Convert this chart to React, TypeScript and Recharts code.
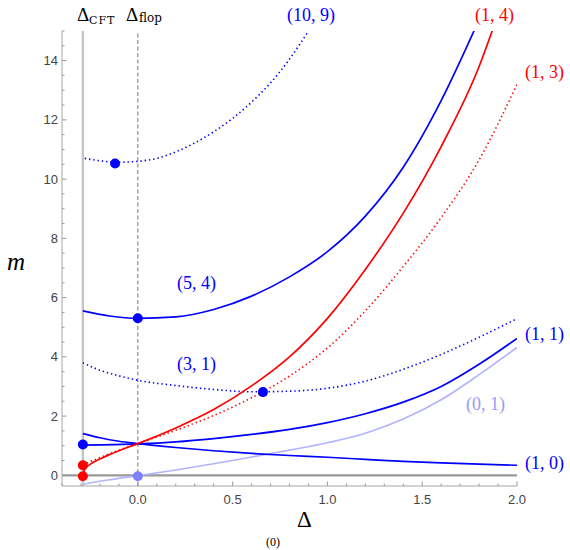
import { ComposedChart, Line, Scatter, XAxis, YAxis, ReferenceLine } from "recharts";

// curves, [Δ, m]
const curve10_9: [number, number][] = [
  [-0.28, 10.7], [-0.2, 10.62], [-0.1, 10.57], [0, 10.6], [0.1, 10.7], [0.2, 10.92],
  [0.3, 11.22], [0.4, 11.6], [0.5, 12.05], [0.6, 12.6], [0.7, 13.25], [0.8, 14.05],
  [0.9, 15.0], [0.95, 15.5],
];
const curve5_4: [number, number][] = [
  [-0.29, 5.55], [-0.15, 5.38], [0, 5.3], [0.2, 5.35], [0.4, 5.6], [0.6, 6.05],
  [0.8, 6.7], [1.0, 7.55], [1.2, 8.75], [1.4, 10.4], [1.6, 12.65], [1.78, 15.1],
];
const curve1_4: [number, number][] = [
  [-0.29, -0.03], [-0.28, 0.2], [-0.25, 0.38], [-0.2, 0.55], [-0.15, 0.7], [-0.08, 0.88],
  [0, 1.07], [0.2, 1.6], [0.4, 2.22], [0.6, 3.02], [0.8, 4.0], [1.0, 5.3], [1.2, 6.95],
  [1.4, 8.85], [1.6, 11.1], [1.8, 13.8], [1.88, 15.2],
];
const curve1_3: [number, number][] = [
  [-0.29, 0.36], [-0.2, 0.6], [-0.1, 0.85], [0, 1.07], [0.2, 1.52], [0.4, 2.02],
  [0.6, 2.62], [0.8, 3.35], [1.0, 4.3], [1.2, 5.55], [1.4, 7.05], [1.6, 8.7],
  [1.8, 10.65], [2.0, 13.2],
];
const curve3_1: [number, number][] = [
  [-0.29, 3.8], [-0.2, 3.55], [-0.1, 3.36], [0, 3.21], [0.2, 3.03], [0.4, 2.9],
  [0.6, 2.82], [0.8, 2.84], [1.0, 2.94], [1.2, 3.18], [1.4, 3.58], [1.6, 4.08],
  [1.8, 4.66], [2.0, 5.29],
];
const curve1_1: [number, number][] = [
  [-0.29, 1.02], [0, 1.06], [0.2, 1.13], [0.4, 1.24], [0.6, 1.38], [0.8, 1.55],
  [1.0, 1.78], [1.2, 2.08], [1.4, 2.47], [1.6, 3.0], [1.8, 3.75], [2.0, 4.62],
];
const curve1_0: [number, number][] = [
  [-0.29, 1.41], [-0.2, 1.27], [-0.1, 1.15], [0, 1.07], [0.2, 0.94], [0.4, 0.83],
  [0.6, 0.74], [0.8, 0.67], [1.0, 0.61], [1.2, 0.54], [1.4, 0.47], [1.6, 0.42],
  [1.8, 0.38], [2.0, 0.34],
];
const curve0_1: [number, number][] = [
  [-0.29, -0.3], [-0.15, -0.15], [0, -0.01], [0.2, 0.18], [0.4, 0.39], [0.6, 0.62],
  [0.8, 0.85], [1.0, 1.1], [1.2, 1.42], [1.4, 1.9], [1.6, 2.55], [1.8, 3.4], [2.0, 4.32],
];

const blueDots: [number, number][] = [[-0.12, 10.53], [0, 5.3], [0.66, 2.81], [-0.29, 1.04]];
const redDots: [number, number][] = [[-0.29, 0.34], [-0.29, -0.03]];
const fadedDots: [number, number][] = [[0, -0.03]];

const xTicks = [-0.4, -0.3, -0.2, -0.1, 0, 0.1, 0.2, 0.3, 0.4, 0.5, 0.6, 0.7, 0.8, 0.9, 1.0,
  1.1, 1.2, 1.3, 1.4, 1.5, 1.6, 1.7, 1.8, 1.9, 2.0];
const yTicks = [0, 0.5, 1, 1.5, 2, 2.5, 3, 3.5, 4, 4.5, 5, 5.5, 6, 6.5, 7, 7.5, 8, 8.5, 9, 9.5,
  10, 10.5, 11, 11.5, 12, 12.5, 13, 13.5, 14, 14.5, 15];

const deltaCFT = -0.29;

const BLUE = "#0000ff";
const RED = "#ff0000";
const LIGHT = "#b3b3ff";
const FRAME = "#a6a6a6";
const TICK = "#9a9a9a";
const SERIF = "'Liberation Serif', serif";
const SANS = "'Liberation Sans', sans-serif";

const pts = (arr: [number, number][]) => arr.map(([x, y]) => ({ x, y }));

const isMajorX = (v: number) => Math.abs(v * 2 - Math.round(v * 2)) < 1e-6;
const isMajorY = (v: number) => Math.abs(v / 2 - Math.round(v / 2)) < 1e-6;

const BottomTick = (p: any) => {
  const v = p.payload.value;
  const major = isMajorX(v);
  return (
    <g>
      <line x1={p.x} x2={p.x} y1={p.y} y2={p.y - (major ? 4.5 : 2.5)} stroke={TICK} />
      {major && (
        <text x={p.x} y={p.y + 18} textAnchor="middle" fontSize={13} fontFamily={SANS} fill="#444">
          {v.toFixed(1)}
        </text>
      )}
    </g>
  );
};

const TopTick = (p: any) => {
  const major = isMajorX(p.payload.value);
  return <line x1={p.x} x2={p.x} y1={p.y} y2={p.y + (major ? 4.5 : 2.5)} stroke={TICK} />;
};

const LeftTick = (p: any) => {
  const v = p.payload.value;
  const major = isMajorY(v);
  return (
    <g>
      <line x1={p.x} x2={p.x + (major ? 4.5 : 2.5)} y1={p.y} y2={p.y} stroke={TICK} />
      {major && (
        <text x={p.x - 4} y={p.y} dy="0.35em" textAnchor="end" fontSize={13} fontFamily={SANS} fill="#444">
          {v}
        </text>
      )}
    </g>
  );
};

const RightTick = (p: any) => {
  const major = isMajorY(p.payload.value);
  return <line x1={p.x} x2={p.x - (major ? 4.5 : 2.5)} y1={p.y} y2={p.y} stroke={TICK} />;
};

const dot = (color: string) => (p: any) => <circle cx={p.cx} cy={p.cy} r={5} fill={color} />;

const ax = { xAxisId: "x", yAxisId: "y" };

const solid = (data: [number, number][], color: string, key: string) => (
  <Line
    key={key}
    {...ax}
    data={pts(data)}
    dataKey="y"
    type="monotone"
    stroke={color}
    strokeWidth={1.7}
    dot={false}
    activeDot={false}
    isAnimationActive={false}
  />
);

const dotted = (data: [number, number][], color: string, key: string) => (
  <Line
    key={key}
    {...ax}
    data={pts(data)}
    dataKey="y"
    type="monotone"
    stroke={color}
    strokeWidth={1.6}
    strokeDasharray="1.4 2.9"
    dot={false}
    activeDot={false}
    isAnimationActive={false}
  />
);

export default function App() {
  return (
    <div style={{ position: "absolute", left: 0, top: 0, width: 570, height: 550, background: "#fff" }}>
      <ComposedChart width={570} height={550} margin={{ top: 31, right: 53, bottom: 34, left: 22 }}>
        <XAxis
          xAxisId="x"
          dataKey="x"
          type="number"
          domain={[-0.4, 2]}
          allowDataOverflow
          ticks={xTicks}
          interval={0}
          tickSize={0}
          tickMargin={0}
          height={30}
          axisLine={{ stroke: FRAME }}
          tickLine={false}
          tick={BottomTick}
        />
        <XAxis
          xAxisId="xt"
          orientation="top"
          type="number"
          domain={[-0.4, 2]}
          allowDataOverflow
          ticks={xTicks}
          interval={0}
          tickSize={0}
          tickMargin={0}
          height={0}
          axisLine={{ stroke: FRAME }}
          tickLine={false}
          tick={TopTick}
        />
        <YAxis
          yAxisId="y"
          dataKey="y"
          type="number"
          domain={[-0.36, 15]}
          allowDataOverflow
          ticks={yTicks}
          interval={0}
          tickSize={0}
          tickMargin={0}
          width={40}
          axisLine={{ stroke: FRAME }}
          tickLine={false}
          tick={LeftTick}
        />
        <YAxis
          yAxisId="yr"
          orientation="right"
          type="number"
          domain={[-0.36, 15]}
          allowDataOverflow
          ticks={yTicks}
          interval={0}
          tickSize={0}
          tickMargin={0}
          width={0}
          axisLine={{ stroke: FRAME }}
          tickLine={false}
          tick={RightTick}
        />
        <ReferenceLine {...ax} y={0} stroke="#999" strokeWidth={2.2} />
        <ReferenceLine {...ax} x={deltaCFT} stroke="#c4c4c4" strokeWidth={2.3} />
        <ReferenceLine {...ax} x={0} stroke="#777" strokeDasharray="4 2.5" />
        {solid(curve0_1, LIGHT, "c01")}
        {dotted(curve10_9, BLUE, "c109")}
        {dotted(curve3_1, BLUE, "c31")}
        {dotted(curve1_3, RED, "c13")}
        {solid(curve5_4, BLUE, "c54")}
        {solid(curve1_1, BLUE, "c11")}
        {solid(curve1_0, BLUE, "c10")}
        {solid(curve1_4, RED, "c14")}
        <Scatter {...ax} data={pts(fadedDots)} shape={dot("#8080ff")} isAnimationActive={false} />
        <Scatter {...ax} data={pts(blueDots)} shape={dot(BLUE)} isAnimationActive={false} />
        <Scatter {...ax} data={pts(redDots)} shape={dot(RED)} isAnimationActive={false} />
      </ComposedChart>
      <svg width={570} height={550} style={{ position: "absolute", left: 0, top: 0, pointerEvents: "none" }}>
        <g fontFamily={SERIF}>
          <text x={77} y={21} fontSize={19}>Δ</text>
          <text x={89} y={24} fontSize={11} letterSpacing={1} fontFamily="'DejaVu Serif', serif">CFT</text>
          <text x={126} y={21} fontSize={19}>Δ</text>
          <text x={139} y={22} fontSize={12} fontFamily="'DejaVu Serif', serif">flop</text>
          <text x={287} y={21} fontSize={18} fill={BLUE}>(10, 9)</text>
          <text x={475} y={21} fontSize={18} fill={RED}>(1, 4)</text>
          <text x={525} y={78} fontSize={18} fill={RED}>(1, 3)</text>
          <text x={177} y={289} fontSize={18} fill={BLUE}>(5, 4)</text>
          <text x={177} y={370} fontSize={18} fill={BLUE}>(3, 1)</text>
          <text x={525} y={340} fontSize={18} fill={BLUE}>(1, 1)</text>
          <text x={466} y={410} fontSize={18} fill="#9a9af5">(0, 1)</text>
          <text x={525} y={469} fontSize={18} fill={BLUE}>(1, 0)</text>
          <text x={7} y={270} fontSize={25} fontStyle="italic">m</text>
          <text x={304.5} y={527} fontSize={23} textAnchor="middle">Δ</text>
          <text x={273} y={546} fontSize={12} textAnchor="middle">(0)</text>
        </g>
      </svg>
    </div>
  );
}
